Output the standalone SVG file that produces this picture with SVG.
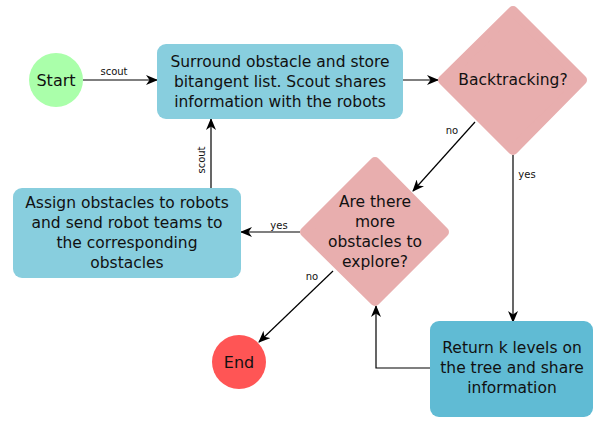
<svg xmlns="http://www.w3.org/2000/svg" width="594" height="422" viewBox="0 0 594 422">
  <style>
    .lbl { font-family: "DejaVu Sans", sans-serif; font-size: 15.5px; fill: #111; text-anchor: middle; dominant-baseline: central; }
    .edge-lbl { font-family: "DejaVu Sans", sans-serif; font-size: 10px; fill: #111; text-anchor: middle; dominant-baseline: central; }
    .edge { fill: none; stroke: #000; stroke-width: 1.2; marker-end: url(#arrow); }
    .proc { fill: #88CEDE; }
    .proc-dark { fill: #60BBD4; }
    .decision { fill: #E8AEAE; stroke: #E8AEAE; stroke-width: 10; stroke-linejoin: round; }
  </style>
  <defs>
    <marker id="arrow" viewBox="0 0 12 10" refX="11" refY="5" markerWidth="12" markerHeight="10" markerUnits="userSpaceOnUse" orient="auto">
      <path d="M0,0 L12,5 L0,10 L3.5,5 z" fill="#000"/>
    </marker>
  </defs>

  <g id="connectors">
    <path class="edge" d="M83,80 L157,80"/>
    <text class="edge-lbl" x="114" y="71">scout</text>
    <path class="edge" d="M403,80 L438,80"/>
    <path class="edge" d="M475,122 L413,191"/>
    <text class="edge-lbl" x="452" y="130">no</text>
    <path class="edge" d="M513,155 L513,322"/>
    <text class="edge-lbl" x="527" y="174">yes</text>
    <path class="edge" d="M300,232 L241,232"/>
    <text class="edge-lbl" x="279" y="225">yes</text>
    <path class="edge" d="M211,188 L211,119"/>
    <text class="edge-lbl" x="201" y="160" transform="rotate(-90 201 160)">scout</text>
    <path class="edge" d="M430,368 L376,368 L376,306"/>
    <path class="edge" d="M333,271 L259,342"/>
    <text class="edge-lbl" x="312" y="276">no</text>
  </g>

  <g id="start">
    <circle cx="56" cy="80" r="27" fill="#AAFFAA"/>
    <text class="lbl" x="56" y="80" style="font-size:16px">Start</text>
  </g>

  <g id="surround">
    <rect class="proc" x="157" y="44" width="246" height="75" rx="9"/>
    <text class="lbl" x="280" y="62">Surround obstacle and store</text>
    <text class="lbl" x="280" y="82">bitangent list. Scout shares</text>
    <text class="lbl" x="280" y="102">information with the robots</text>
  </g>

  <g id="backtracking">
    <polygon class="decision" points="513,11 582,80 513,150 443,80"/>
    <text class="lbl" x="513" y="80">Backtracking?</text>
  </g>

  <g id="more-obstacles">
    <polygon class="decision" points="375,162 444,232 375,301 305,232"/>
    <text class="lbl" x="375" y="202">Are there</text>
    <text class="lbl" x="375" y="222">more</text>
    <text class="lbl" x="375" y="242">obstacles to</text>
    <text class="lbl" x="375" y="262">explore?</text>
  </g>

  <g id="assign">
    <rect class="proc" x="13" y="188" width="228" height="90" rx="9"/>
    <text class="lbl" x="127" y="203">Assign obstacles to robots</text>
    <text class="lbl" x="127" y="223">and send robot teams to</text>
    <text class="lbl" x="127" y="243">the corresponding</text>
    <text class="lbl" x="127" y="263">obstacles</text>
  </g>

  <g id="return-levels">
    <rect class="proc-dark" x="430" y="321" width="163" height="96" rx="9"/>
    <text class="lbl" x="512" y="348">Return k levels on</text>
    <text class="lbl" x="512" y="368">the tree and share</text>
    <text class="lbl" x="512" y="388">information</text>
  </g>

  <g id="end">
    <circle cx="239" cy="362" r="27" fill="#FF5555"/>
    <text class="lbl" x="239" y="362" style="font-size:16px">End</text>
  </g>
</svg>
